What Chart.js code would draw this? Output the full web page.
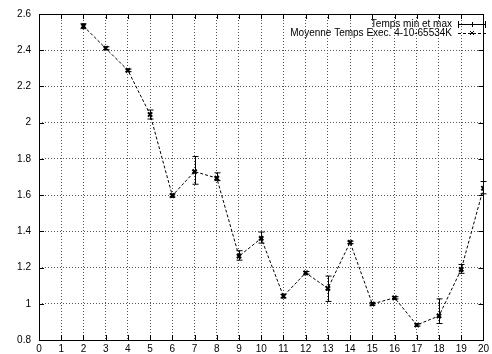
<!DOCTYPE html>
<html lang="fr">
<head>
<meta charset="UTF-8">
<title>Moyenne Temps Exec.</title>
<script src="https://cdn.jsdelivr.net/npm/chart.js"></script>
<style>
  body { margin: 0; background: #fff; }
  #wrap { width: 492px; height: 354px; }
</style>
</head>
<body>
<div id="wrap"><canvas id="myChart" width="492" height="354"></canvas></div>
<script>
// valeurs
const xValues  = [2, 3, 4, 5, 6, 7, 8, 9, 10, 11, 12, 13, 14, 15, 16, 17, 18, 19, 20];
const moyenne  = [2.533, 2.411, 2.289, 2.045, 1.597, 1.73, 1.694, 1.263, 1.361, 1.042, 1.171, 1.085, 1.339, 0.999, 1.033, 0.883, 0.933, 1.19, 1.638];
const tempsMin = [2.519, 2.403, 2.282, 2.02, 1.589, 1.66, 1.68, 1.241, 1.335, 1.032, 1.164, 1.013, 1.332, 0.993, 1.027, 0.877, 0.891, 1.168, 1.607];
const tempsMax = [2.546, 2.419, 2.296, 2.07, 1.607, 1.813, 1.723, 1.293, 1.396, 1.052, 1.178, 1.153, 1.346, 1.005, 1.039, 0.889, 1.027, 1.217, 1.675];
const xTicks = [0, 1, 2, 3, 4, 5, 6, 7, 8, 9, 10, 11, 12, 13, 14, 15, 16, 17, 18, 19, 20];
const yTicks = [0.8, 1, 1.2, 1.4, 1.6, 1.8, 2, 2.2, 2.4, 2.6];
const legendLabels = ['Temps min et max', 'Moyenne Temps Exec. 4-10-65534K'];

const FONT = '10px "Liberation Sans", Arial, sans-serif';

// barres d'erreur + petites graduations + légende façon gnuplot
const gnuplotStyle = {
  id: 'gnuplotStyle',
  afterDatasetsDraw(chart) {
    const ctx = chart.ctx;
    const xs = chart.scales.x, ys = chart.scales.y;
    ctx.save();
    ctx.strokeStyle = '#000';
    ctx.lineWidth = 1;
    ctx.setLineDash([]);
    for (let i = 0; i < xValues.length; i++) {
      const px = Math.round(xs.getPixelForValue(xValues[i])) + 0.5;
      const y1 = ys.getPixelForValue(tempsMin[i]);
      const y2 = ys.getPixelForValue(tempsMax[i]);
      ctx.beginPath();
      ctx.moveTo(px, y1); ctx.lineTo(px, y2);
      ctx.moveTo(px - 3, y1); ctx.lineTo(px + 3, y1);
      ctx.moveTo(px - 3, y2); ctx.lineTo(px + 3, y2);
      ctx.stroke();
    }
    ctx.restore();
  },
  afterDraw(chart) {
    const ctx = chart.ctx;
    const a = chart.chartArea;
    const xs = chart.scales.x, ys = chart.scales.y;
    ctx.save();
    ctx.strokeStyle = '#000';
    ctx.lineWidth = 1;
    ctx.beginPath();
    xTicks.forEach(v => {
      const px = Math.round(xs.getPixelForValue(v)) + 0.5;
      ctx.moveTo(px, a.bottom); ctx.lineTo(px, a.bottom - 5);
      ctx.moveTo(px, a.top); ctx.lineTo(px, a.top + 5);
    });
    yTicks.forEach(v => {
      const py = Math.round(ys.getPixelForValue(v)) + 0.5;
      ctx.moveTo(a.left, py); ctx.lineTo(a.left + 5, py);
      ctx.moveTo(a.right, py); ctx.lineTo(a.right - 5, py);
    });
    ctx.stroke();
    ctx.strokeRect(Math.round(a.left) + 0.5, Math.round(a.top) + 0.5, Math.round(a.right - a.left), Math.round(a.bottom - a.top));

    // légende
    ctx.font = FONT;
    ctx.fillStyle = '#000';
    ctx.textAlign = 'right';
    ctx.textBaseline = 'middle';
    const tx = 452, sx1 = 458, sx2 = 486;
    const ly1 = 24, ly2 = 33;
    ctx.fillText(legendLabels[0], tx, ly1);
    ctx.fillText(legendLabels[1], tx, ly2);
    ctx.beginPath();
    ctx.moveTo(sx1, ly1 + 0.5); ctx.lineTo(sx2, ly1 + 0.5);
    ctx.moveTo(sx1 + 0.5, ly1 - 3); ctx.lineTo(sx1 + 0.5, ly1 + 4);
    ctx.moveTo(sx2 - 0.5, ly1 - 3); ctx.lineTo(sx2 - 0.5, ly1 + 4);
    ctx.moveTo(472.5, ly1 - 2); ctx.lineTo(472.5, ly1 + 3);
    ctx.stroke();
    ctx.setLineDash([3, 2]);
    ctx.beginPath();
    ctx.moveTo(sx1, ly2 + 0.5); ctx.lineTo(sx2, ly2 + 0.5);
    ctx.stroke();
    ctx.setLineDash([]);
    ctx.beginPath();
    ctx.moveTo(470, ly2 - 2); ctx.lineTo(474, ly2 + 2);
    ctx.moveTo(474, ly2 - 2); ctx.lineTo(470, ly2 + 2);
    ctx.stroke();
    ctx.restore();
  }
};

const points = xValues.map((x, i) => ({ x: x, y: moyenne[i] }));

const ctx = document.getElementById('myChart').getContext('2d');
const myChart = new Chart(ctx, {
  type: 'line',
  data: {
    datasets: [{
      label: legendLabels[1],
      data: points,
      borderColor: '#000',
      borderWidth: 1,
      borderDash: [3, 2],
      pointStyle: 'crossRot',
      pointRadius: 3,
      pointBorderWidth: 2,
      pointBorderColor: '#000',
      pointBackgroundColor: '#000',
      tension: 0,
      fill: false
    }]
  },
  options: {
    responsive: false,
    animation: false,
    layout: { padding: { top: 14, right: 4, left: 0, bottom: 0 } },
    plugins: { legend: { display: false }, tooltip: { enabled: false } },
    scales: {
      x: {
        type: 'linear',
        min: 0, max: 20,
        afterBuildTicks: s => { s.ticks = xTicks.map(v => ({ value: v })); },
        afterFit: s => { s.height = 14; },
        grid: { color: '#555', drawTicks: false },
        border: { display: false, dash: [1, 2] },
        ticks: { color: '#000', font: { family: '"Liberation Sans", Arial, sans-serif', size: 10 }, padding: 3, maxRotation: 0 }
      },
      y: {
        type: 'linear',
        min: 0.8, max: 2.6,
        afterBuildTicks: s => { s.ticks = yTicks.map(v => ({ value: v })); },
        afterFit: s => { s.width = 39; },
        grid: { color: '#555', drawTicks: false },
        border: { display: false, dash: [1, 2] },
        ticks: {
          color: '#000',
          font: { family: '"Liberation Sans", Arial, sans-serif', size: 10 },
          padding: 8,
          callback: v => String(Math.round(v * 10) / 10)
        }
      }
    }
  },
  plugins: [gnuplotStyle]
});
</script>
</body>
</html>
